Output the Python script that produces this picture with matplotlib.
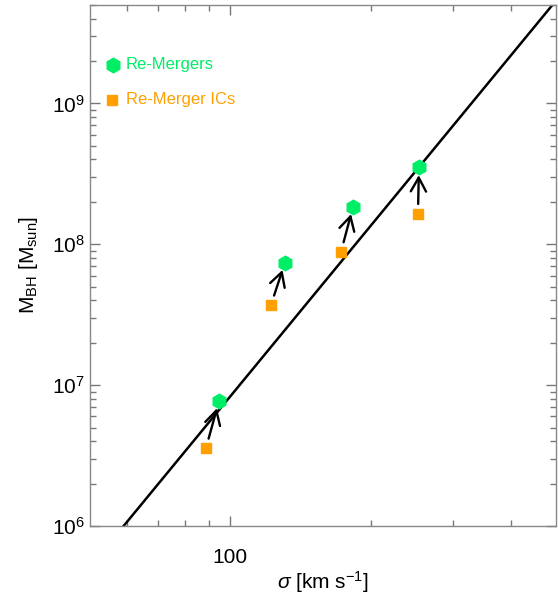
import matplotlib
matplotlib.use('Agg')
import matplotlib.pyplot as plt
from matplotlib.ticker import FixedLocator, NullFormatter, LogLocator
import numpy as np

plt.rcParams['font.family'] = ['Liberation Sans', 'DejaVu Sans']
plt.rcParams['mathtext.fontset'] = 'custom'
plt.rcParams['mathtext.rm'] = 'Liberation Sans'
plt.rcParams['mathtext.it'] = 'Liberation Sans:italic'
plt.rcParams['mathtext.bf'] = 'Liberation Sans:bold'

# re-merger remnants (after) and their initial conditions (before)
sigma_remerger = [94.6, 131.0, 183.4, 254.0]
mbh_remerger = [7.74e6, 7.41e7, 1.85e8, 3.51e8]
sigma_ics = [88.7, 122.3, 172.9, 252.8]
mbh_ics = [3.58e6, 3.72e7, 8.87e7, 1.65e8]

# M-sigma relation: log M = 8.13 + 4.02 log(sigma/200)
msig_norm = 1.35e8
msig_slope = 4.02
sigma_line = np.array([50.0, 500.0])

green = '#00ee66'
orange = '#ffa000'

fig = plt.figure(figsize=(5.58, 5.98), dpi=100)
ax = fig.add_axes([90/558, 1 - 526/598, 466/558, 521/598])
ax.set_xscale('log')
ax.set_yscale('log')

ax.plot(sigma_line, msig_norm * (sigma_line / 200.0) ** msig_slope,
        color='black', lw=1.8)

ax.plot(sigma_ics, mbh_ics, ls='none', marker='s', ms=7,
        mec=orange, mfc=orange)
ax.plot(sigma_remerger, mbh_remerger, ls='none', marker='h', ms=10.5,
        mec=green, mfc=green)

for x0, y0, x1, y1 in zip(sigma_ics, mbh_ics, sigma_remerger, mbh_remerger):
    ax.annotate('', xy=(x1, y1), xytext=(x0, y0),
                arrowprops=dict(arrowstyle='->,head_length=1.0,head_width=0.55',
                                color='black', lw=1.7, shrinkA=7, shrinkB=5.5))

# legend
ax.plot([0.0494], [0.885], transform=ax.transAxes, marker='h', ms=10.5,
        mec=green, mfc=green, ls='none')
ax.text(0.0773, 0.885, 'Re-Mergers', transform=ax.transAxes, color=green,
        fontsize=12, va='center', ha='left')
ax.plot([0.0473], [0.8177], transform=ax.transAxes, marker='s', ms=7,
        mec=orange, mfc=orange, ls='none')
ax.text(0.0773, 0.8177, 'Re-Merger ICs', transform=ax.transAxes, color=orange,
        fontsize=12, va='center', ha='left')

ax.set_xlim(50, 500)
ax.set_ylim(1e6, 5e9)

ax.xaxis.set_major_locator(FixedLocator([100]))
ax.xaxis.set_minor_locator(FixedLocator([60, 70, 80, 90, 200, 300, 400]))
ax.xaxis.set_minor_formatter(NullFormatter())
ax.set_xticklabels(['100'])
ax.yaxis.set_major_locator(LogLocator(base=10, numticks=10))
ax.yaxis.set_minor_locator(LogLocator(base=10, subs=np.arange(2, 10), numticks=10))
ax.yaxis.set_minor_formatter(NullFormatter())

ax.tick_params(which='both', direction='in', top=True, right=True,
               color='#777777', labelsize=15, width=1)
ax.tick_params(which='major', length=7)
ax.tick_params(which='minor', length=4)
ax.tick_params(axis='x', which='major', pad=16)
ax.tick_params(axis='y', which='major', pad=4)
for sp in ax.spines.values():
    sp.set_color('#888888')
    sp.set_linewidth(1)

ax.set_xlabel(r'$\sigma$ [km s$^{-1}$]', fontsize=15)
ax.xaxis.set_label_coords(0.5, -0.082)
ax.set_ylabel(r'M$_{\rm BH}$ [M$_{\rm sun}$]', fontsize=15, labelpad=8)

fig.savefig('out.png', dpi=100)
